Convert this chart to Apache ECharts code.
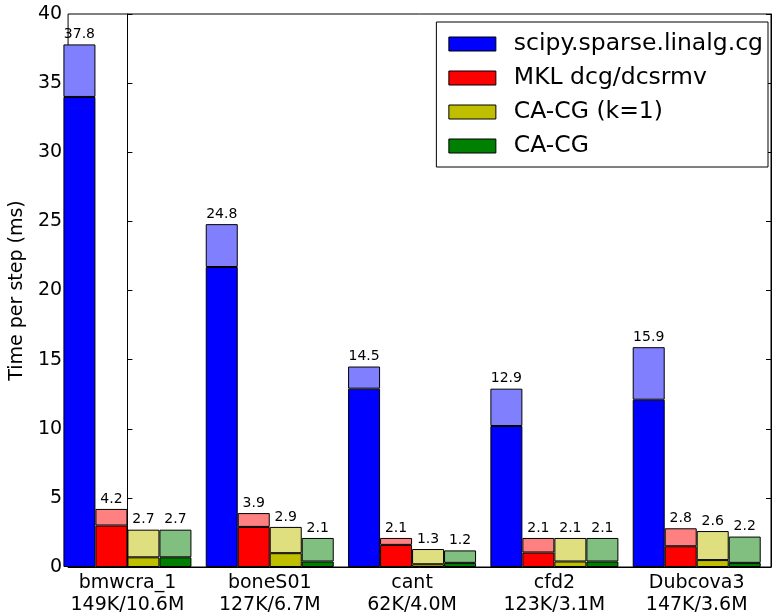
<!DOCTYPE html>
<html><head><meta charset="utf-8">
<script src="https://cdn.jsdelivr.net/npm/echarts@6/dist/echarts.min.js"></script>
<style>html,body{margin:0;padding:0;background:#fff}#c{width:772px;height:616px}</style>
</head><body><div id="c"></div>
<script>
const categories = ['bmwcra_1', 'boneS01', 'cant', 'cfd2', 'Dubcova3'];
const sizes = ['149K/10.6M', '127K/6.7M', '62K/4.0M', '123K/3.1M', '147K/3.6M'];
const seriesNames = ['scipy.sparse.linalg.cg', 'MKL dcg/dcsrmv', 'CA-CG (k=1)', 'CA-CG'];
// totals (labelled) and the dark bottom part of each bar
const scipyTotal = [37.8, 24.8, 14.5, 12.9, 15.9];
const scipyDark  = [34.0, 21.7, 12.9, 10.2, 12.1];
const mklTotal = [4.2, 3.9, 2.1, 2.1, 2.8];
const mklDark  = [3.0, 2.9, 1.6, 1.05, 1.5];
const cak1Total = [2.7, 2.9, 1.3, 2.1, 2.6];
const cak1Dark  = [0.7, 1.0, 0.2, 0.4, 0.5];
const caTotal = [2.7, 2.1, 1.2, 2.1, 2.2];
const caDark  = [0.7, 0.4, 0.3, 0.4, 0.3];
const yTicks = [0, 5, 10, 15, 20, 25, 30, 35, 40];

const darkColors = ['#0000ff', '#ff0000', '#bfbf00', '#008000'];
const lightColors = ['#8080ff', '#ff8080', '#dfdf80', '#80bf80'];
const totals = [scipyTotal, mklTotal, cak1Total, caTotal];
const darks = [scipyDark, mklDark, cak1Dark, caDark];
const FONT = 'DejaVu Sans';

const series = [];
seriesNames.forEach((name, s) => {
  const stack = 'st' + s;
  series.push({
    name: name, type: 'bar', stack: stack, barWidth: 32, barGap: '0%',
    encode: {x: 1, y: 0},
    itemStyle: {color: darkColors[s], borderColor: '#000', borderWidth: 1},
    data: darks[s].map((v, i) => [v, i])
  });
  series.push({
    name: name + ' ', type: 'bar', stack: stack, barWidth: 32, barGap: '0%',
    encode: {x: 1, y: 0},
    itemStyle: {color: lightColors[s], borderColor: '#000', borderWidth: 1},
    label: {show: true, position: 'top', distance: 3, color: '#000', fontSize: 14,
      fontFamily: FONT,
      formatter: p => totals[s][p.dataIndex].toFixed(1)},
    data: totals[s].map((v, i) => [+(v - darks[s][i]).toFixed(3), i])
  });
});

const chart = echarts.init(document.getElementById('c'), null, {renderer: 'canvas'});
chart.setOption({
  animation: false,
  backgroundColor: '#fff',
  textStyle: {fontFamily: FONT},
  grid: {left: 62, right: 1, top: 14, bottom: 49, show: true, borderColor: '#000', borderWidth: 1, containLabel: false},
  legend: {
    data: seriesNames, orient: 'vertical', right: 4, top: 22,
    backgroundColor: '#fff', borderColor: '#000', borderWidth: 1,
    padding: [10, 5, 9, 12], itemWidth: 47, itemHeight: 14, itemGap: 10,
    icon: 'rect',
    itemStyle: {borderColor: '#000', borderWidth: 1},
    textStyle: {fontSize: 23.5, color: '#000', fontFamily: FONT, padding: [0, 0, 0, 13], lineHeight: 23},
    selectedMode: false
  },
  xAxis: {
    type: 'value', min: -0.417, max: 4.522,
    axisLine: {show: true, lineStyle: {color: '#000'}},
    axisTick: {show: false},
    splitLine: {show: false},
    axisLabel: {customValues: [0, 1, 2, 3, 4], color: '#000', fontSize: 19, lineHeight: 22, margin: 5,
      fontFamily: FONT,
      formatter: v => categories[Math.round(v)] + '\n' + sizes[Math.round(v)]}
  },
  yAxis: [{
    type: 'value', min: 0, max: 40, interval: 5,
    name: 'Time per step (ms)', nameLocation: 'middle', nameGap: 37, nameRotate: 90,
    nameTextStyle: {fontSize: 19, color: '#000', fontFamily: FONT},
    axisLine: {show: true, lineStyle: {color: '#000'}},
    axisTick: {show: true, inside: true, length: 5, lineStyle: {color: '#000'}},
    splitLine: {show: false},
    axisLabel: {color: '#000', fontSize: 19, margin: 6, fontFamily: FONT,
      customValues: yTicks}
  }, {
    type: 'value', min: 0, max: 40, interval: 5, position: 'right',
    axisLine: {show: true, lineStyle: {color: '#000'}},
    axisTick: {show: true, inside: true, length: 5, lineStyle: {color: '#000'}},
    splitLine: {show: false},
    axisLabel: {show: false}
  }],
  series: series
});
</script></body></html>
